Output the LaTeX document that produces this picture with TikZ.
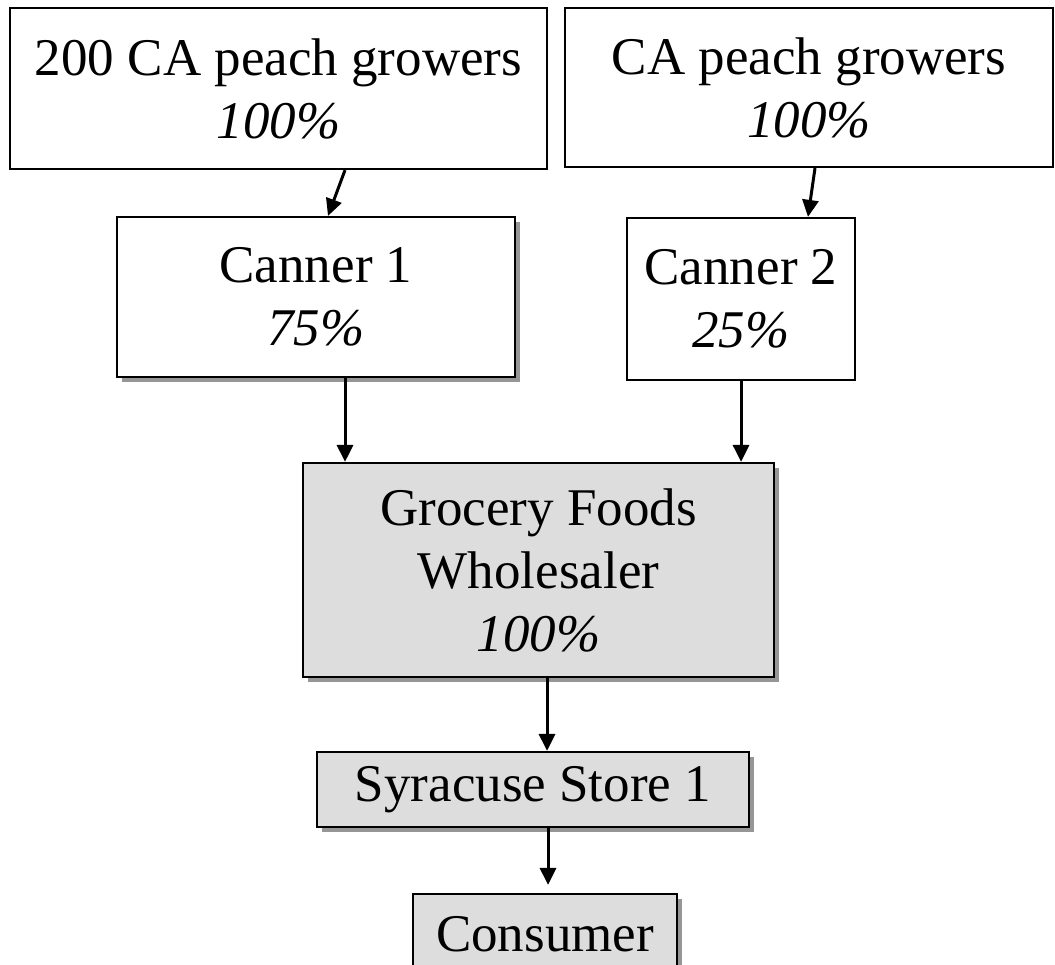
\documentclass[tikz,border=0pt]{standalone}
\usepackage{fontspec}
\setmainfont{Liberation Serif}
\usepackage{tikz}
\usetikzlibrary{positioning, shadows, calc, arrows.meta}
\definecolor{boxgray}{RGB}{221,221,221}
\definecolor{shadowgray}{RGB}{150,150,150}

\begin{document}
\begin{tikzpicture}[x=1pt, y=1pt,
	every node/.style={font=\fontsize{53}{63}\selectfont, align=center, inner sep=0pt},
	plainbox/.style={draw, line width=2.2pt, fill=white, rectangle},
	shadebox/.style={plainbox, drop shadow={shadow xshift=5pt, shadow yshift=-5pt, fill=shadowgray, opacity=1}},
	graybox/.style={shadebox, fill=boxgray},
	flow/.style={line width=3pt, -{Triangle[length=17pt, width=16pt]}}]

\useasboundingbox (0,0) rectangle (1055,-964);

% growers
\node[plainbox, minimum width=537pt, minimum height=161pt] (grow1) at (278.5,-88.5) {200 CA peach growers\\\textit{100\%}};
\node[plainbox, minimum width=488pt, minimum height=159pt] (grow2) at (809,-87.5) {CA peach growers\\\textit{100\%}};

% canners
\node[shadebox, minimum width=398pt, minimum height=160pt] (can1) at (316,-297) {Canner 1\\\textit{75\%}};
\node[plainbox, minimum width=228pt, minimum height=162pt] (can2) at (741,-299) {Canner 2\\\textit{25\%}};

% wholesaler, store, consumer
\node[graybox, minimum width=471pt, minimum height=214pt] (whole) at (538.5,-570) {Grocery Foods\\Wholesaler\\\textit{100\%}};
\node[graybox, minimum width=432pt, minimum height=75pt] (store) at (533,-789.5) {Syracuse Store 1};
\node[graybox, minimum width=264pt, minimum height=80pt] (cons) at (545,-934) {Consumer};

\draw[flow] ([xshift=66.5pt]grow1.south) -- ([xshift=12pt]can1.north);
\draw[flow] ([xshift=6pt]grow2.south) -- ([xshift=67pt]can2.north);

\draw[flow] ([xshift=29pt]can1.south) -- ([xshift=29pt]can1.south |- whole.north);
\draw[flow] (can2.south) -- (can2.south |- whole.north);

\draw[flow] ([xshift=8.5pt]whole.south) -- ([xshift=8.5pt]whole.south |- store.north);
\draw[flow, shorten >=8pt] ([xshift=15pt]store.south) -- ([xshift=15pt]store.south |- cons.north);

\end{tikzpicture}
\end{document}
